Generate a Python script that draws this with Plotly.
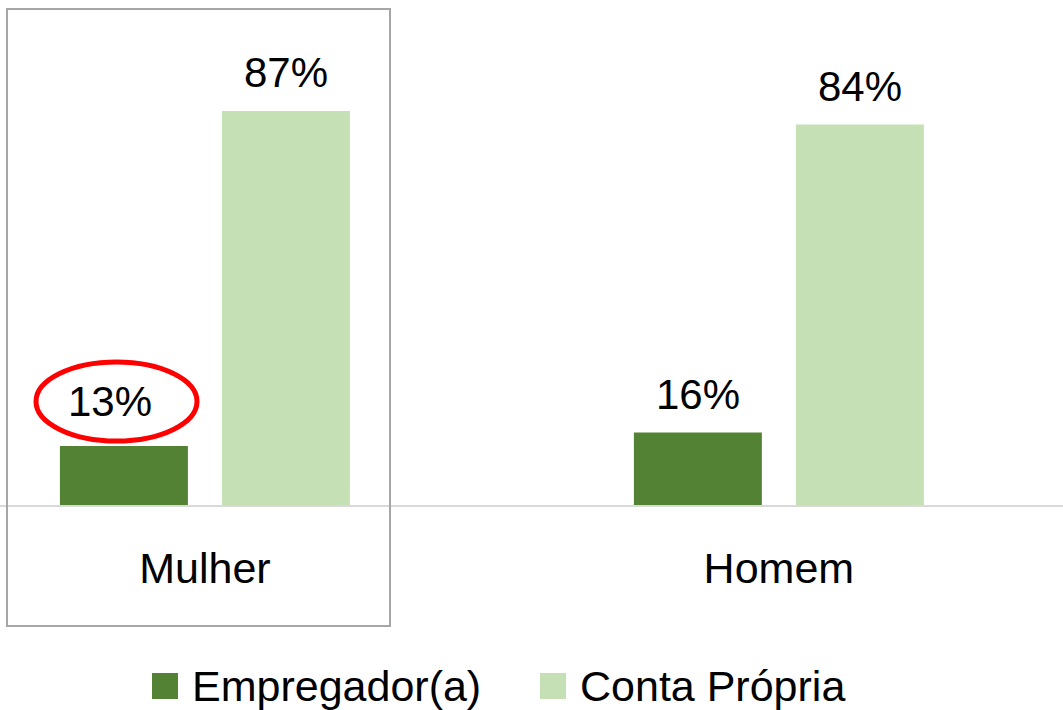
import plotly.graph_objects as go

categorias = ["Mulher", "Homem"]
series = ["Empregador(a)", "Conta Própria"]
empregador = [13, 16]
conta_propria = [87, 84]
cores = ["#548235", "#C5E0B4"]

W, H = 1063, 710
TOPO, BASE = 52, 505  # limites verticais da area do grafico (px)


def px_x(x):
    return x / W


def px_y(y):
    return (BASE - y) / (BASE - TOPO)


fonte = "Liberation Sans"

fig = go.Figure()
for nome, valores, cor in zip(series, [empregador, conta_propria], cores):
    fig.add_trace(go.Bar(
        x=categorias, y=valores, name=nome,
        marker=dict(color=cor, line=dict(width=0)),
        showlegend=False,
    ))

formas = []
anotacoes = []

# rotulos de dados (o 13% foi arrastado para cima/esquerda no original)
desloc_x = [-81, 81]
for i, valores in enumerate([empregador, conta_propria]):
    for cat, v in zip(categorias, valores):
        movido = cat == "Mulher" and i == 0
        anotacoes.append(dict(x=cat, y=v, xref="x", yref="y", text=f"{v}%",
                              showarrow=False,
                              xshift=desloc_x[i] - (14 if movido else 0),
                              yshift=38 + (7 if movido else 0),
                              xanchor="center", yanchor="middle",
                              font=dict(size=42, color="#000000", family=fonte)))

# legenda desenhada a mao (quadrados grandes como no original)
leg_x = [152, 540]
for i, (nome, cor) in enumerate(zip(series, cores)):
    x0 = leg_x[i]
    formas.append(dict(type="rect", xref="paper", yref="paper",
                       x0=px_x(x0), x1=px_x(x0 + 26), y0=px_y(699), y1=px_y(673),
                       fillcolor=cor, line=dict(width=0)))
    anotacoes.append(dict(xref="paper", yref="paper", x=px_x(x0 + 38), y=px_y(686),
                          text=nome, showarrow=False, xanchor="left", yanchor="middle",
                          font=dict(size=43, color="#000000", family=fonte)))

# caixa cinza em volta de Mulher
formas.append(dict(type="rect", xref="paper", yref="paper",
                   x0=px_x(7), x1=px_x(390), y0=px_y(626), y1=px_y(9),
                   line=dict(color="#A6A6A6", width=2), fillcolor="rgba(0,0,0,0)"))
# elipse vermelha em volta do 13%
formas.append(dict(type="circle", xref="paper", yref="paper",
                   x0=px_x(36), x1=px_x(197), y0=px_y(441), y1=px_y(362),
                   line=dict(color="#FF0000", width=5)))

fig.update_layout(
    width=W, height=H,
    margin=dict(l=0, r=0, t=TOPO, b=H - BASE),
    plot_bgcolor="white", paper_bgcolor="white",
    barmode="group", bargap=0.4355, bargroupgap=0.21,
    xaxis=dict(range=[-0.357, 1.495], showline=True, linecolor="#D9D9D9", linewidth=2,
               showgrid=False, zeroline=False, ticks="",
               tickfont=dict(size=43, color="#000000", family=fonte),
               ticklabelstandoff=24),
    yaxis=dict(range=[0, 100], visible=False, showgrid=False, zeroline=False),
    shapes=formas,
    annotations=anotacoes,
    font=dict(family=fonte),
)

fig.write_html("out.html", config={"displayModeBar": False},
               post_script="document.body.style.margin='0';")
